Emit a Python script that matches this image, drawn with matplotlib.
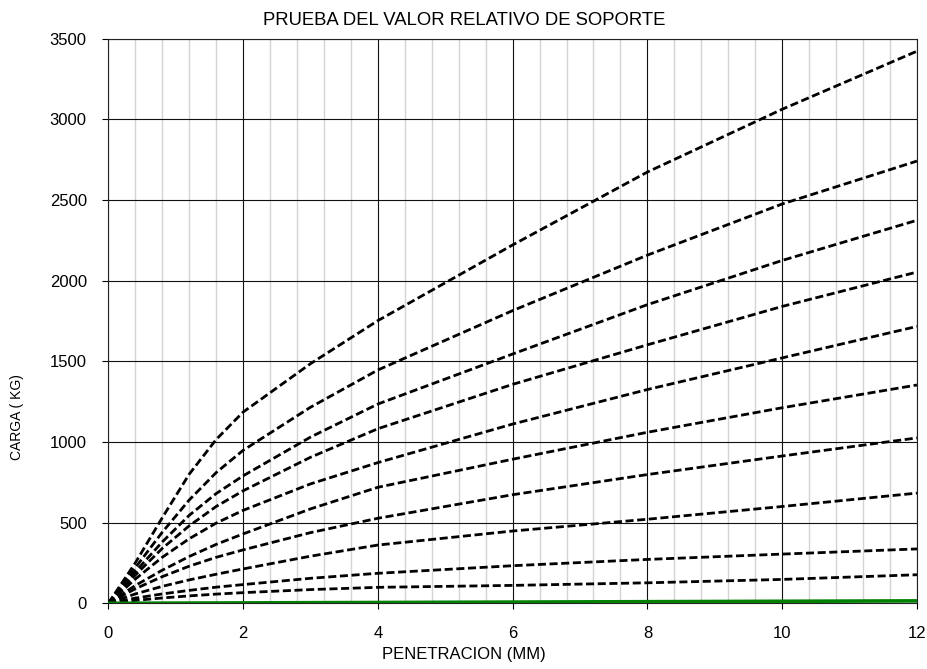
import matplotlib

matplotlib.use("Agg")
import matplotlib.pyplot as plt
from matplotlib.ticker import MultipleLocator

plt.rcParams["font.family"] = ["Liberation Sans", "DejaVu Sans"]

# penetration (mm) where each curve was read
penetration = [0, 0.4, 0.8, 1.2, 1.6, 2, 3, 4, 6, 8, 10, 12]

# load (kg) of each dashed curve, top to bottom
curves = [
    [0, 250, 530, 800, 1015, 1185, 1485, 1752, 2221, 2673, 3062, 3422],
    [0, 220, 440, 640, 810, 948, 1215, 1446, 1814, 2158, 2475, 2741],
    [0, 195, 380, 545, 680, 790, 1030, 1235, 1545, 1851, 2125, 2374],
    [0, 175, 340, 480, 600, 697, 905, 1082, 1357, 1602, 1840, 2053],
    [0, 150, 285, 400, 497, 576, 740, 872, 1111, 1325, 1521, 1716],
    [0, 110, 205, 290, 365, 430, 585, 719, 893, 1060, 1212, 1353],
    [0, 90, 165, 230, 285, 331, 438, 527, 673, 798, 913, 1025],
    [0, 58, 105, 145, 180, 213, 292, 361, 448, 521, 600, 683],
    [0, 32, 58, 80, 100, 116, 155, 186, 233, 272, 305, 337],
    [0, 18, 33, 46, 57, 66, 85, 99, 111, 127, 148, 177],
]

# green base line
base_x = [0, 12]
base_y = [0, 15]

fig = plt.figure(figsize=(9.28, 6.69), dpi=100)
ax = fig.add_axes([0.1167, 0.0982, 0.8714, 0.8441])

for ys in curves:
    ax.plot(penetration, ys, color="black", linewidth=2.0,
            linestyle=(0, (2.9, 1.3)), zorder=3)
ax.plot(base_x, base_y, color="#008000", linewidth=2.6, zorder=4)

ax.set_xlim(0, 12)
ax.set_ylim(0, 3500)
ax.xaxis.set_major_locator(MultipleLocator(2))
ax.xaxis.set_minor_locator(MultipleLocator(0.4))
ax.yaxis.set_major_locator(MultipleLocator(500))

ax.grid(True, which="minor", axis="x", color="#d3d3d3", linewidth=1.0)
ax.grid(True, which="major", axis="both", color="#111111", linewidth=0.8)
ax.set_axisbelow(True)

ax.tick_params(axis="x", which="minor", length=0)
ax.tick_params(axis="x", which="major", direction="out", length=4.5,
               width=0.8, labelsize=12, pad=12)
ax.tick_params(axis="y", direction="out", length=4.5, width=0.8,
               labelsize=12, pad=11)
for sp in ax.spines.values():
    sp.set_color("#222222")
    sp.set_linewidth(0.8)

fig.text(0.5, 0.97, "PRUEBA DEL VALOR RELATIVO DE SOPORTE",
         ha="center", va="center", fontsize=13.3)
fig.text(0.5, 1 - 655 / 669, "PENETRACION (MM)",
         ha="center", va="center", fontsize=12)
fig.text(17.5 / 928, 1 - 417 / 669, "CARGA ( KG)", rotation=90,
         ha="center", va="center", fontsize=10)

fig.savefig("out.png", dpi=100)
plt.close(fig)
